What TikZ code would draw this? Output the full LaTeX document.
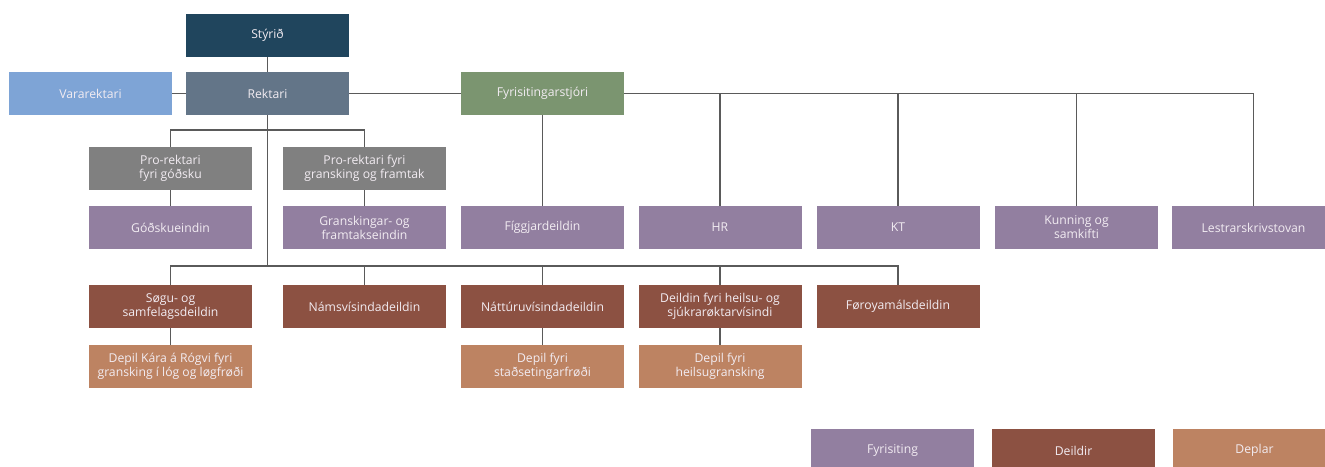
\documentclass[tikz,border=0pt]{standalone}
\usepackage{fontspec}
\setmainfont{Open Sans}
\definecolor{cStyrid}{HTML}{20455D}
\definecolor{cVara}{HTML}{7EA4D6}
\definecolor{cRek}{HTML}{637588}
\definecolor{cFyr}{HTML}{7B9570}
\definecolor{cPro}{HTML}{808080}
\definecolor{cPurp}{HTML}{927FA0}
\definecolor{cBrown}{HTML}{8C5142}
\definecolor{cLight}{HTML}{BD8362}
\definecolor{cText}{HTML}{F2ECF2}
\definecolor{cLine}{HTML}{5A5A5A}
\tikzset{
  box/.style={rectangle, minimum width=163pt, minimum height=43pt, inner sep=0pt,
    text=cText, align=center, font=\fontsize{12.2}{14}\selectfont},
  styr/.style={box, fill=cStyrid},
  vara/.style={box, fill=cVara},
  rek/.style={box, fill=cRek},
  fyr/.style={box, fill=cFyr},
  pro/.style={box, fill=cPro},
  purp/.style={box, fill=cPurp},
  brown/.style={box, fill=cBrown},
  light/.style={box, fill=cLight},
  conn/.style={draw=cLine, line width=1.2pt}
}
\begin{document}
\begin{tikzpicture}[x=1pt,y=-1pt]
\useasboundingbox (0,0) rectangle (1325,466);
% top
\node[styr] (styr) at (267.5,35.5) {Stýrið};
\node[vara] (vara) at (90.5,93.5) {Vararektari};
\node[rek] (rek) at (267.5,93.5) {Rektari};
\node[fyr] (fyr) at (542.5,93.5) {Fyrisitingarstjóri};
% pro-rektarar
\node[pro] (pr1) at (170.5,168.5) {Pro-rektari\\fyri góðsku};
\node[pro] (pr2) at (364.5,168.5) {Pro-rektari fyri\\gransking og framtak};
% row 2
\node[purp] (godsku) at (170.5,227.5) {Góðskueindin};
\node[purp] (gransk) at (364.5,227.5) {Granskingar- og\\framtakseindin};
\node[purp] (figg) at (542.5,227.5) {Fíggjardeildin};
\node[purp] (hr) at (720,227.5) {HR};
\node[purp] (kt) at (898,227.5) {KT};
\node[purp] (kunn) at (1076.5,227.5) {Kunning og\\samkifti};
\node[purp] (lestr) at (1253.5,227.5) {Lestrarskrivstovan};
% row 3
\node[brown] (sogu) at (170.5,306.5) {Søgu- og\\samfelagsdeildin};
\node[brown] (nams) at (364.5,306.5) {Námsvísindadeildin};
\node[brown] (natt) at (542.5,306.5) {Náttúruvísindadeildin};
\node[brown] (heil) at (720,306.5) {Deildin fyri heilsu- og\\sjúkrarøktarvísindi};
\node[brown] (foroy) at (898,306.5) {Føroyamálsdeildin};
% row 4
\node[light] (dep1) at (170.5,366.5) {Depil Kára á Rógvi fyri\\gransking í lóg og løgfrøði};
\node[light] (dep2) at (542.5,366.5) {Depil fyri\\staðsetingarfrøði};
\node[light] (dep3) at (720,366.5) {Depil fyri\\heilsugransking};
% legend
\node[purp] (lg1) at (892.5,450.5) {Fyrisiting};
\node[brown] (lg2) at (1073.5,450.5) {Deildir};
\node[light] (lg3) at (1254.5,450.5) {Deplar};
% buses
\coordinate (busA) at (267.5,130);
\coordinate (busB) at (267.5,266);
\coordinate (busC) at (1253.5,93.5);
% connectors
\draw[conn] (styr.south) -- (rek.north);
\draw[conn] (vara.east) -- (rek.west);
\draw[conn] (rek.east) -- (fyr.west);
\draw[conn] (fyr.east) -- (busC) -- (lestr.north);
\draw[conn] (hr.north) -- (hr.north |- busC);
\draw[conn] (kt.north) -- (kt.north |- busC);
\draw[conn] (kunn.north) -- (kunn.north |- busC);
\draw[conn] (fyr.south) -- (figg.north);
\draw[conn] (rek.south) -- (busB);
\draw[conn] (pr1.north) -- (pr1.north |- busA) -- (pr2.north |- busA) -- (pr2.north);
\draw[conn] (pr1.south) -- (godsku.north);
\draw[conn] (pr2.south) -- (gransk.north);
\draw[conn] (sogu.north) -- (sogu.north |- busB) -- (foroy.north |- busB) -- (foroy.north);
\draw[conn] (nams.north) -- (nams.north |- busB);
\draw[conn] (natt.north) -- (natt.north |- busB);
\draw[conn] (heil.north) -- (heil.north |- busB);
\draw[conn] (sogu.south) -- (dep1.north);
\draw[conn] (natt.south) -- (dep2.north);
\draw[conn] (heil.south) -- (dep3.north);
\end{tikzpicture}
\end{document}
